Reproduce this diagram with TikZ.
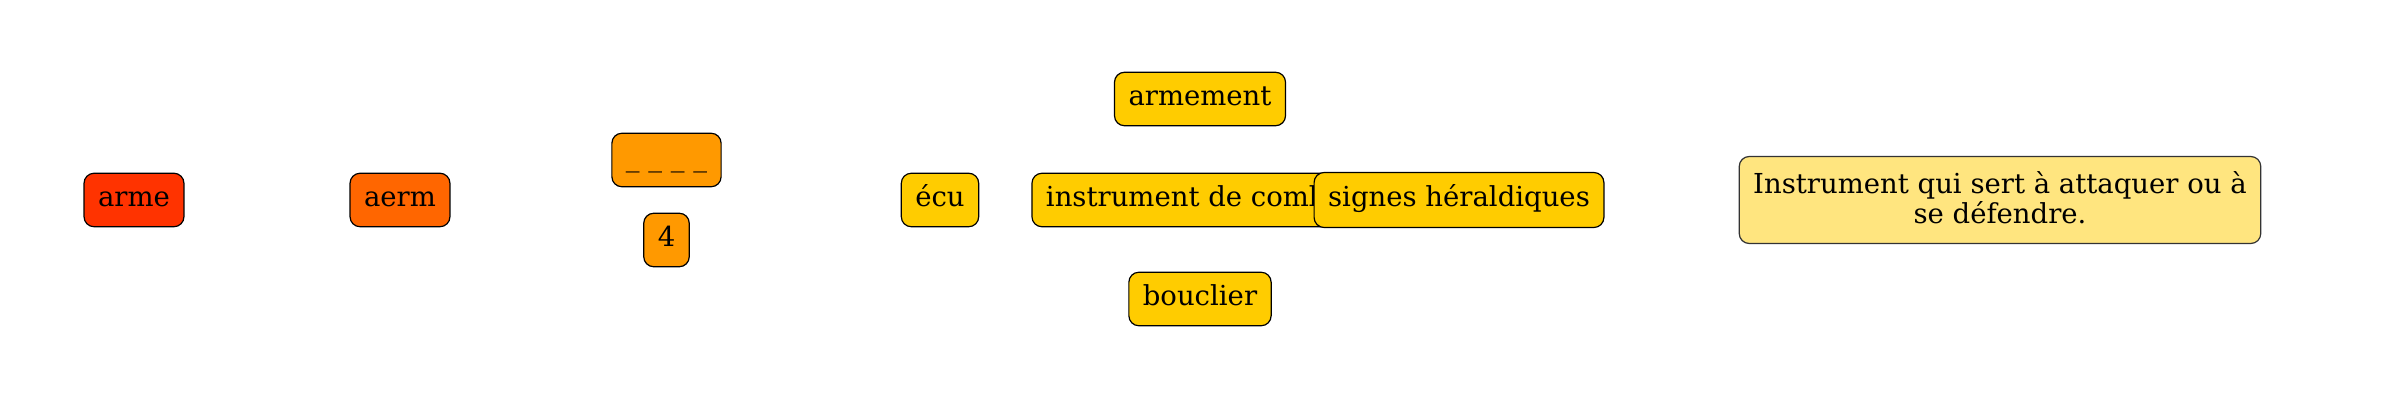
\documentclass[tikz,border=0pt]{standalone}
\usepackage{fontspec}
\setmainfont{DejaVu Serif}
\definecolor{armered}{HTML}{FF3300}
\definecolor{aermorange}{HTML}{FF6600}
\definecolor{hintorange}{HTML}{FF9900}
\definecolor{wordgold}{HTML}{FFCC00}
\definecolor{defyellow}{HTML}{FFE57F}
\begin{document}
\begin{tikzpicture}[x=0.5pt,y=-0.5pt,
  box/.style={draw=black,line width=0.6pt,rounded corners=5pt,inner xsep=7pt,inner ysep=0pt,
    minimum height=26.75pt,text height=10.3pt,text depth=3.45pt,font=\fontsize{13.75}{14.7}\selectfont},
  defbox/.style={draw=black!80,line width=0.6pt,rounded corners=5pt,inner xsep=7pt,inner ysep=0pt,
    minimum height=43.5pt,align=center,font=\fontsize{13.75}{14.7}\selectfont}]
\useasboundingbox (0,0) rectangle (2400,400);
% word, anagram and hints
\node[box,fill=armered] (arme) at (134,200) {arme};
\node[box,fill=aermorange] (aerm) at (400,200) {aerm};
\node[box,fill=hintorange] (blanks) at (666.5,160) {\_ \_ \_ \_};
\node[box,fill=hintorange] (four) at (666.5,240) {4};
% related words
\node[box,fill=wordgold] (ecu) at (940,200) {écu};
\node[box,fill=wordgold] (armement) at (1200,99) {armement};
\node[box,fill=wordgold] (combat) at (1200,200) {instrument de combat};
\node[box,fill=wordgold,minimum height=27.5pt] (signes) at (1459,200) {signes héraldiques};
\node[box,fill=wordgold] (bouclier) at (1200,299) {bouclier};
% definition
\node[defbox,fill=defyellow] (definition) at (2000,200)
  {\rule{0pt}{12pt}Instrument qui sert à attaquer ou à\\se défendre.\rule[-3.5pt]{0pt}{3.5pt}};
\end{tikzpicture}
\end{document}
